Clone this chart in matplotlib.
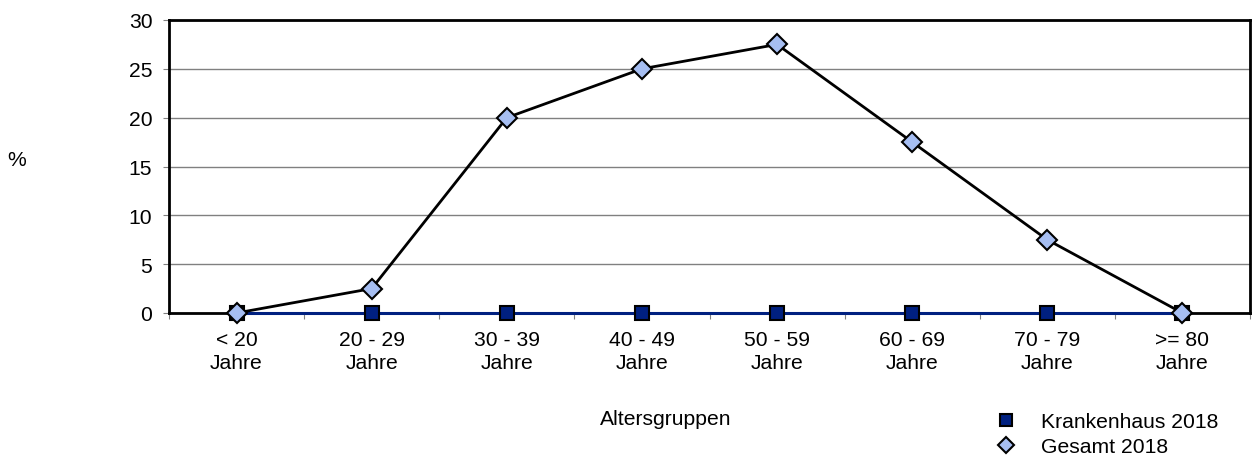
import matplotlib.pyplot as plt

plt.rcParams['font.family'] = ['Liberation Sans', 'DejaVu Sans']

kategorien = ["< 20\nJahre", "20 - 29\nJahre", "30 - 39\nJahre", "40 - 49\nJahre",
              "50 - 59\nJahre", "60 - 69\nJahre", "70 - 79\nJahre", ">= 80\nJahre"]
krankenhaus = [0, 0, 0, 0, 0, 0, 0, 0]
gesamt = [0, 2.5, 20, 25, 27.5, 17.5, 7.5, 0]

FS = 15.2

fig = plt.figure(figsize=(12.53, 4.6), dpi=100)
ax = fig.add_axes([169/1253, 1-314/460, (1250-169)/1253, (314-21)/460])

x = list(range(len(kategorien)))
ax.plot(x, krankenhaus, color="#002080", lw=2.2, marker="s", ms=10,
        mfc="#002080", mec="black", mew=1.5, label="Krankenhaus 2018",
        clip_on=False, zorder=4)
ax.plot(x, gesamt, color="black", lw=2, marker="D", ms=10,
        mfc="#A6BEF2", mec="black", mew=1.5, label="Gesamt 2018",
        clip_on=False, zorder=5)

ax.set_xlim(-0.5, 7.5)
ax.set_ylim(0, 30)
ax.set_yticks(range(0, 31, 5))
ax.yaxis.grid(True, color="#808080", lw=1)
ax.set_axisbelow(True)
for s in ax.spines.values():
    s.set_linewidth(2)
    s.set_color("black")

ax.set_xticks([i + 0.5 for i in range(-1, 8)], minor=False)
ax.set_xticklabels([])
ax.set_xticks(x, minor=True)
ax.set_xticklabels(kategorien, minor=True, fontsize=FS, linespacing=1.3)
ax.tick_params(axis="x", which="minor", length=0, pad=12)
ax.tick_params(axis="x", which="major", length=4, color="#808080", direction="out")
ax.tick_params(axis="y", length=4, color="#808080", labelsize=FS, pad=8)

fig.text(17/1253, 1-161/460, "%", fontsize=FS, ha="center", va="center")
fig.text(666/1253, 1-420/460, "Altersgruppen", fontsize=FS, ha="center", va="center")

fig.legend(loc="upper left", bbox_to_anchor=(995/1253, 1-413/460), frameon=False,
           fontsize=FS, handlelength=1.0, handletextpad=1.2, labelspacing=0.3,
           borderaxespad=0, borderpad=0, markerscale=0.85)
for l in fig.legends[0].get_lines():
    l.set_linestyle("none")

fig.savefig("out.png", dpi=100)
